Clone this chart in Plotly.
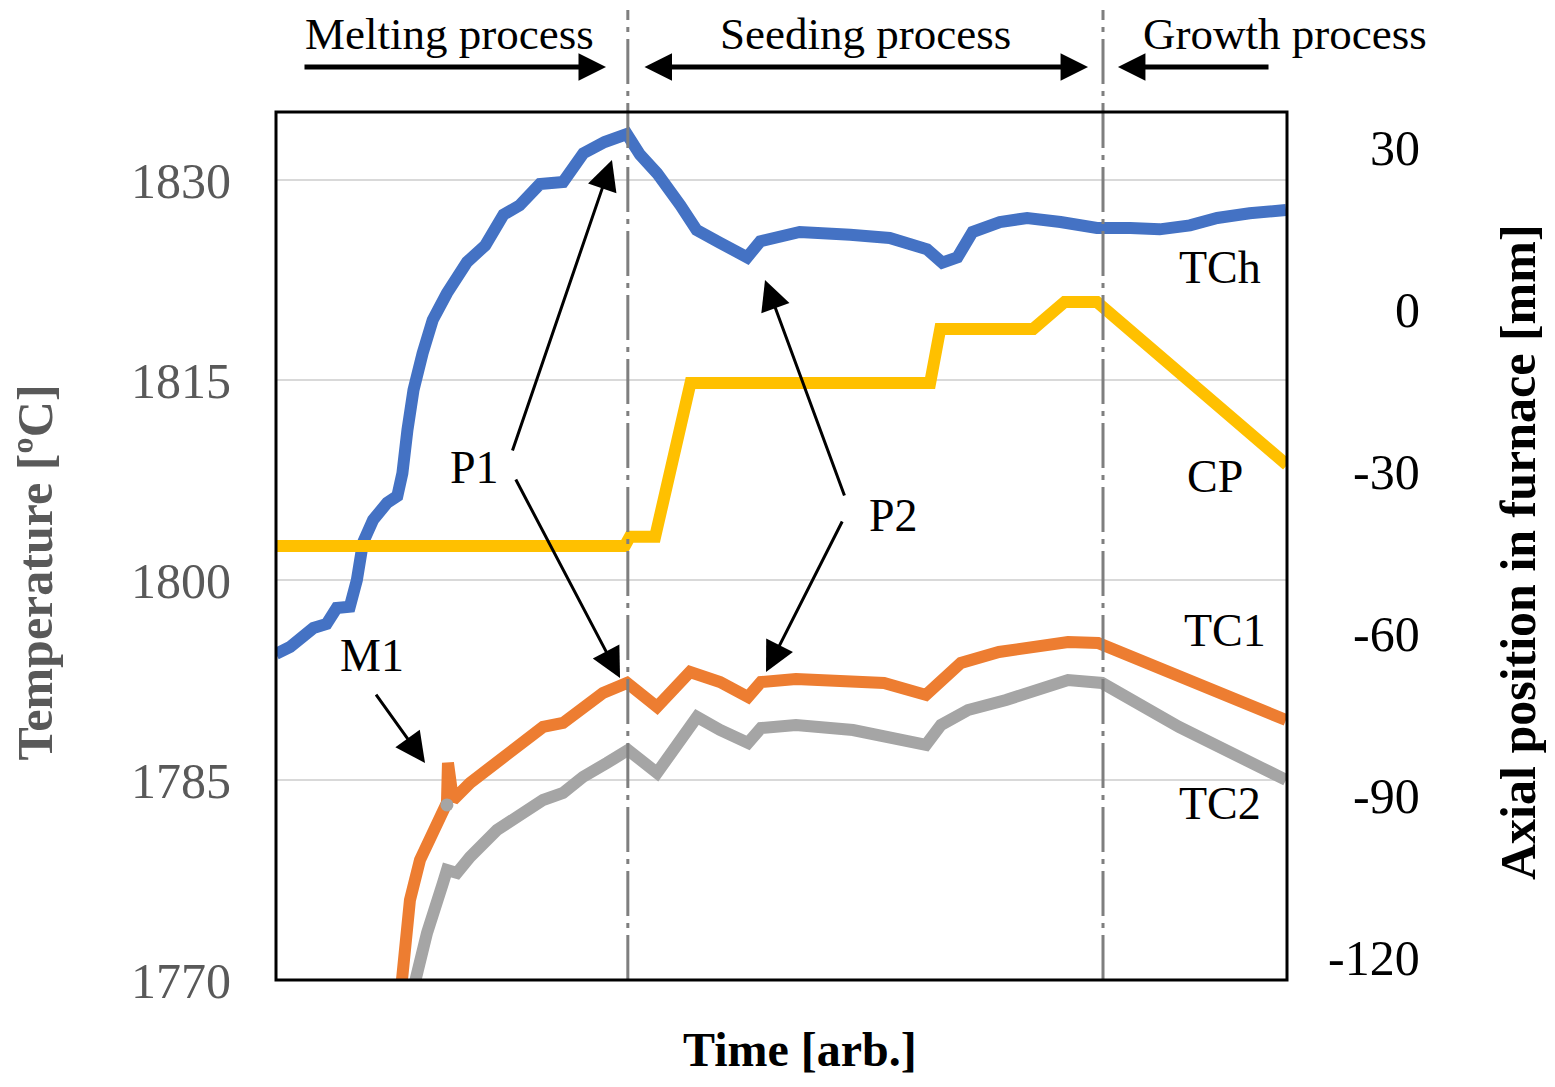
import plotly.graph_objects as go

# ---------------- data ----------------
x_tch = [0, 1.4, 3.7, 5.0, 6.0, 7.3, 8.0, 8.6, 9.6, 11.0, 12.0, 12.5, 13.0, 13.6, 14.5,
         15.5, 16.9, 18.9, 20.7, 22.5, 24.1, 26.1, 28.4, 30.4, 32.5, 34.7, 36.0, 37.7, 40.0, 41.6,
         43.9, 46.6, 47.9, 51.8, 56.8, 60.7, 64.4, 65.9, 67.4, 68.9, 71.6, 74.3, 77.6, 81.2, 84.5,
         87.4, 90.4, 93.1, 96.3, 99.9]
t_tch = [1794.45, 1794.98, 1796.4, 1796.7, 1797.9, 1798.0, 1800.0, 1802.8, 1804.5, 1805.8,
         1806.3, 1808.0, 1811.25, 1814.25, 1817.0, 1819.5, 1821.5, 1823.85, 1825.1, 1827.4,
         1828.1, 1829.7, 1829.85, 1832.0, 1832.85, 1833.45, 1831.9, 1830.5, 1828.1, 1826.25,
         1825.3, 1824.2, 1825.4, 1826.1, 1825.9, 1825.65, 1824.8, 1823.8, 1824.2, 1826.1,
         1826.85, 1827.15, 1826.85, 1826.4, 1826.4, 1826.3, 1826.6, 1827.15, 1827.5, 1827.75]

x_tc1 = [12.46, 13.25, 14.24, 15.53, 16.52, 16.91, 17.01, 17.51, 19.19, 21.17, 23.15, 26.41,
         28.39, 30.76, 32.34, 34.72, 37.69, 40.95, 43.92, 46.69, 47.97, 51.43, 60.14, 64.29,
         67.75, 71.51, 78.34, 81.31, 88.92, 99.9]
t_tc1 = [1770.0, 1776.0, 1779.0, 1781.25, 1782.53, 1783.28, 1786.28, 1783.5, 1784.78, 1785.98,
         1787.25, 1788.98, 1789.28, 1790.78, 1791.53, 1792.28, 1790.48, 1793.1, 1792.35, 1791.23,
         1792.35, 1792.58, 1792.28, 1791.38, 1793.78, 1794.6, 1795.35, 1795.28, 1792.88, 1789.5]

x_tc2 = [13.75, 14.94, 16.52, 16.91, 17.9, 19.19, 21.86, 23.84, 26.41, 28.39, 30.37, 32.74,
         34.82, 37.69, 41.64, 43.92, 45.7, 46.69, 47.97, 51.43, 57.07, 64.29, 65.78, 68.45,
         72.21, 78.34, 81.7, 89.32, 99.9]
t_tc2 = [1769.85, 1773.53, 1777.28, 1778.25, 1778.03, 1779.23, 1781.25, 1782.23, 1783.5,
         1784.03, 1785.23, 1786.28, 1787.25, 1785.53, 1789.73, 1788.75, 1788.0, 1787.78, 1788.9,
         1789.13, 1788.75, 1787.63, 1789.13, 1790.25, 1791.0, 1792.5, 1792.28, 1788.98, 1785.0]
x_tc2_glitch = [16.91]
t_tc2_glitch = [1783.13]

x_cp = [0, 34.5, 35.0, 37.5, 41.0, 64.7, 65.7, 74.9, 78.0, 81.2, 100]
cp_mm = [-43.7, -43.7, -42.0, -42.0, -13.5, -13.5, -3.5, -3.5, 1.5, 1.5, -28.7]

phase_bounds = [34.8, 81.8]
left_ticks = [1770, 1785, 1800, 1815, 1830]
right_ticks = [30, 0, -30, -60, -90, -120]
right_tick_text = ["30", "0", "-30", "-60", "-90", "-120"]

# ---------------- styling ----------------
FONT = "Liberation Serif, Times New Roman, serif"
BLUE, ORANGE, GRAY, YELLOW = "#4472C4", "#ED7D31", "#A5A5A5", "#FFC000"
LW = 12

fig = go.Figure()
fig.add_trace(go.Scatter(x=x_cp, y=cp_mm, yaxis="y2", mode="lines",
                         line=dict(color=YELLOW, width=LW), name="CP"))
fig.add_trace(go.Scatter(x=x_tc2, y=t_tc2, mode="lines",
                         line=dict(color=GRAY, width=LW), name="TC2"))
fig.add_trace(go.Scatter(x=x_tc1, y=t_tc1, mode="lines",
                         line=dict(color=ORANGE, width=LW), name="TC1"))
fig.add_trace(go.Scatter(x=x_tc2_glitch, y=t_tc2_glitch, mode="markers",
                         marker=dict(color=GRAY, size=13), name="TC2 point"))
fig.add_trace(go.Scatter(x=x_tch, y=t_tch, mode="lines",
                         line=dict(color=BLUE, width=LW), name="TCh"))

shapes = []
for xb in phase_bounds:
    shapes.append(dict(type="line", xref="x", yref="paper", x0=xb, x1=xb, y0=0, y1=1.1175,
                       line=dict(color="#7F7F7F", width=3, dash="45px,7px,5px,7px"), layer="above"))
shapes.append(dict(type="rect", xref="paper", yref="paper", x0=0, x1=1, y0=0, y1=1,
                   line=dict(color="black", width=3), layer="above"))

ann = []
def txt(s, x, y, size=46, color="black", bold=False, angle=0, xanchor="center",
        yanchor="middle", pad=1):
    ann.append(dict(text=("<b>%s</b>" % s) if bold else s, x=x, y=y, xref="x domain",
                    yref="y domain", showarrow=False, font=dict(family=FONT, size=size, color=color),
                    textangle=angle, xanchor=xanchor, yanchor=yanchor, borderpad=pad))

def arrow(x0, y0, x1, y1, width=3, size=2.0, side="end"):
    ann.append(dict(text="", x=x1, y=y1, ax=x0, ay=y0, xref="x domain", yref="y domain",
                    axref="x domain", ayref="y domain", showarrow=True, arrowhead=2,
                    arrowsize=size, arrowwidth=width, arrowcolor="black", arrowside=side,
                    standoff=0, startstandoff=0))

# top process labels and arrows (anchored at the top edge of the figure)
txt("Melting process", 0.1721, 1.1198, size=45, yanchor="top", pad=0)
txt("Seeding process", 0.5826, 1.1198, size=45, yanchor="top", pad=0)
txt("Growth process", 0.998, 1.1198, size=45, yanchor="top", pad=0)
arrow(0.0267, 1.0518, 0.3264, 1.0518, width=5, size=1.1)
arrow(0.363, 1.0518, 0.8032, 1.0518, width=5, size=1.1, side="end+start")
arrow(0.9832, 1.0518, 0.8328, 1.0518, width=5, size=1.1)

# curve labels
txt("TCh", 0.9337, 0.8203)
txt("CP", 0.9288, 0.5795)
txt("TC1", 0.9387, 0.4032)
txt("TC2", 0.9337, 0.2039)
txt("P1", 0.1968, 0.591)
txt("P2", 0.6103, 0.5357)
txt("M1", 0.095, 0.3744)

# pointer arrows
arrow(0.2334, 0.6083, 0.3323, 0.9447)
arrow(0.2364, 0.5783, 0.3403, 0.3479)
arrow(0.5628, 0.5565, 0.4837, 0.8065)
arrow(0.5608, 0.5300, 0.4847, 0.3548)
arrow(0.0979, 0.3306, 0.1474, 0.2500)

# axis titles
txt("Temperature [ºC]", -0.2379, 0.47, size=50, color="#595959", bold=True, angle=-90)
txt("Axial position in furnace [mm]", 1.2285, 0.4931, size=50, bold=True, angle=-90)
txt("Time [arb.]", 0.5183, -0.1129, size=48, bold=True, yanchor="bottom")

# right-axis tick labels (right aligned)
for v, s in zip(right_ticks, right_tick_text):
    ann.append(dict(text=s, x=1.1336, y=v, xref="x domain", yref="y2", showarrow=False,
                    xanchor="right", yanchor="middle",
                    font=dict(family=FONT, size=50, color="black")))

# page body has an 8px margin: size the figure so everything fits the window
fig.update_layout(
    width=1539, height=1071,
    margin=dict(l=268, r=260, t=104, b=99),
    paper_bgcolor="white", plot_bgcolor="white",
    showlegend=False,
    font=dict(family=FONT),
    xaxis=dict(range=[0, 100], showgrid=False, showticklabels=False, zeroline=False,
               showline=False, ticks=""),
    yaxis=dict(range=[1770, 1835.1], tickvals=left_ticks, showgrid=True, gridcolor="#D9D9D9",
               gridwidth=1.5, zeroline=False, showline=False, ticks="outside", ticklen=34,
               tickcolor="rgba(0,0,0,0)",
               tickfont=dict(family=FONT, size=50, color="#595959")),
    yaxis2=dict(range=[-124.07, 36.67], overlaying="y", side="right", showgrid=False,
                showticklabels=False, zeroline=False, showline=False, ticks=""),
    shapes=shapes,
    annotations=ann,
)

fig.write_html("out.html")
